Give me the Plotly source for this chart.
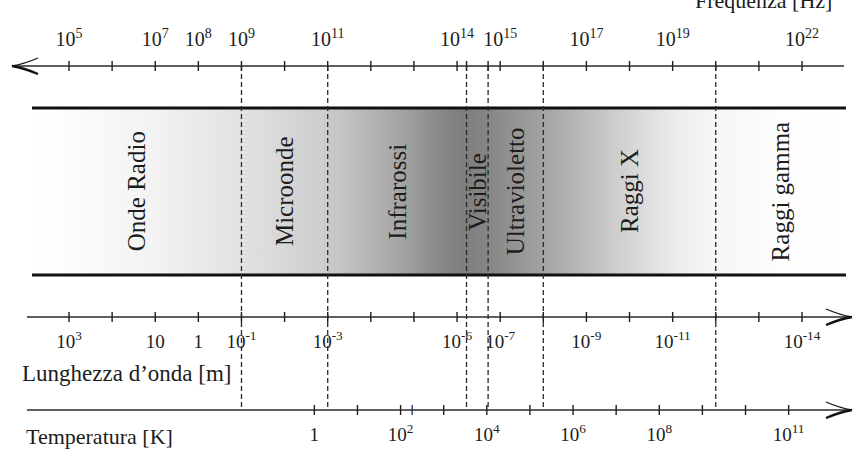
import plotly.graph_objects as go

# ---- spectrum data (log10 exponents) ----
FREQ_TICK_EXP = list(range(5, 23))                   # frequency ticks, 10^5 .. 10^22 Hz
FREQ_LABEL_EXP = [5, 7, 8, 9, 11, 14, 15, 17, 19, 22]
WAVE_LABEL_EXP = [3, 1, 0, -1, -3, -6, -7, -9, -11, -14]   # wavelength in m
TEMP_TICK_EXP = list(range(0, 12))                   # temperature ticks, 1 .. 10^11 K
TEMP_LABEL_EXP = [0, 2, 4, 6, 8, 11]
TEMP_MARK_EXP = [2.27]                               # highlighted temperature tick
BAND_NAMES = ["Onde Radio", "Microonde", "Infrarossi", "Visibile",
              "Ultravioletto", "Raggi X", "Raggi gamma"]
BAND_EDGES_EXP = [9, 11, 14.22, 14.72, 16, 20]       # region boundaries, log10 Hz

LIGHT_SPEED_EXP = 8        # lambda = c / f with c ~ 10^8 m/s
WIEN_OFFSET_EXP = 10.69    # peak frequency ~ 10^10.69 * T

# ---- layout geometry ----
W, H = 854, 452
PX_PER_DECADE = (802 - 69) / 17.0
X0 = 5 - 69 / PX_PER_DECADE
X1 = X0 + W / PX_PER_DECADE
BAND_LO, BAND_HI = X0 + 32 / PX_PER_DECADE, X0 + 846 / PX_PER_DECADE

Y_FREQ, Y_BAND_TOP, Y_BAND_BOT, Y_WAVE, Y_TEMP = 66, 108, 275, 317, 410
TICK_HALF = 5
INK = "#1c1c1c"
SERIF = "Liberation Serif, Times New Roman, serif"


def tick_trace(xs, yc, color=INK, width=1.4):
    tx, ty = [], []
    for x in xs:
        tx += [x, x, None]
        ty += [yc - TICK_HALF, yc + TICK_HALF, None]
    return go.Scatter(x=tx, y=ty, mode="lines", hoverinfo="skip",
                      line=dict(color=color, width=width), showlegend=False)


def power_label(e):
    if e == 0:
        return "1"
    if e == 1:
        return "10"
    return "10<sup>%d</sup>" % e


def label_trace(xs, texts, y, size):
    return go.Scatter(x=xs, y=[y] * len(xs), text=texts, mode="text",
                      textposition="middle center", hoverinfo="skip",
                      textfont=dict(family=SERIF, size=size, color=INK),
                      showlegend=False)


fig = go.Figure()

# gradient band
grad_stops = [(BAND_LO, 255), (4.79, 253), (6.88, 243), (9.01, 226), (11.0, 203),
              (12.68, 165), (13.6, 136), (14.2, 126), (14.72, 134), (16.0, 163),
              (17.78, 208), (19.17, 238), (20.0, 246), (21.5, 253), (BAND_HI, 255)]
colorscale = [[(e - BAND_LO) / (BAND_HI - BAND_LO), "rgb(%d,%d,%d)" % (g, g, g)]
              for e, g in grad_stops]
fig.add_trace(go.Scatter(
    x=[BAND_LO, BAND_HI, BAND_HI, BAND_LO, BAND_LO],
    y=[Y_BAND_TOP, Y_BAND_TOP, Y_BAND_BOT, Y_BAND_BOT, Y_BAND_TOP],
    mode="lines", fill="toself", line=dict(width=0), hoverinfo="skip",
    fillgradient=dict(type="horizontal", colorscale=colorscale,
                      start=BAND_LO, stop=BAND_HI),
    showlegend=False))

# band frame
for yb in (Y_BAND_TOP, Y_BAND_BOT):
    fig.add_shape(type="line", xref="x", yref="y", x0=BAND_LO, x1=BAND_HI,
                  y0=yb, y1=yb, line=dict(color="#111", width=3))

# region boundaries
for e in BAND_EDGES_EXP:
    fig.add_shape(type="line", xref="x", yref="y", x0=e, x1=e,
                  y0=Y_FREQ, y1=Y_TEMP,
                  line=dict(color="#2a2a2a", width=1.3, dash="5px,3px"))

# axis lines
axis_spans = [(Y_FREQ, 12, 844), (Y_WAVE, 27, 850), (Y_TEMP, 27, 850)]
for yc, p0, p1 in axis_spans:
    fig.add_shape(type="line", xref="x", yref="y",
                  x0=X0 + p0 / PX_PER_DECADE, x1=X0 + p1 / PX_PER_DECADE,
                  y0=yc, y1=yc, line=dict(color="#2a2a2a", width=1.3))


def arrow_head(tip_px, yc, direction):
    back = tip_px - direction * 26
    xt = X0 + tip_px / PX_PER_DECADE
    xb = X0 + back / PX_PER_DECADE
    xm = X0 + (tip_px - direction * 12) / PX_PER_DECADE
    fig.add_shape(type="path", xref="x", yref="y",
                  path="M %f,%f Q %f,%f %f,%f" % (xb, yc - 8, xm, yc - 2, xt, yc),
                  line=dict(color="#111", width=1.3))
    fig.add_shape(type="path", xref="x", yref="y",
                  path="M %f,%f Q %f,%f %f,%f" % (xb, yc + 8, xm, yc + 2, xt, yc),
                  line=dict(color="#111", width=2.4))


arrow_head(12, Y_FREQ, -1)
arrow_head(852, Y_WAVE, 1)
arrow_head(852, Y_TEMP, 1)

# ticks
fig.add_trace(tick_trace(FREQ_TICK_EXP + BAND_EDGES_EXP[2:4], Y_FREQ))
fig.add_trace(tick_trace(FREQ_TICK_EXP, Y_WAVE))
fig.add_trace(tick_trace([t + WIEN_OFFSET_EXP for t in TEMP_TICK_EXP], Y_TEMP))
fig.add_trace(tick_trace([t + WIEN_OFFSET_EXP for t in TEMP_MARK_EXP], Y_TEMP,
                         color="#3f4f8f", width=1.6))

# tick labels
fig.add_trace(label_trace(FREQ_LABEL_EXP, [power_label(e) for e in FREQ_LABEL_EXP], 41, 20))
fig.add_trace(label_trace([LIGHT_SPEED_EXP - w for w in WAVE_LABEL_EXP],
                          [power_label(w) for w in WAVE_LABEL_EXP], 343, 19))
fig.add_trace(label_trace([t + WIEN_OFFSET_EXP for t in TEMP_LABEL_EXP],
                          [power_label(t) for t in TEMP_LABEL_EXP], 436, 19))

# region names
edges = [BAND_LO] + BAND_EDGES_EXP + [BAND_HI]
for i, name in enumerate(BAND_NAMES):
    fig.add_annotation(x=(edges[i] + edges[i + 1]) / 2, y=(Y_BAND_TOP + Y_BAND_BOT) / 2,
                       xref="x", yref="y", text=name, textangle=-90, showarrow=False,
                       font=dict(family=SERIF, size=25, color=INK))

# axis titles
fig.add_annotation(x=X0 + 20 / PX_PER_DECADE, y=373, xref="x", yref="y",
                   text="Lunghezza d’onda [m]", xanchor="left", showarrow=False,
                   font=dict(family=SERIF, size=23, color=INK))
fig.add_annotation(x=X0 + 24 / PX_PER_DECADE, y=436, xref="x", yref="y",
                   text="Temperatura [K]", xanchor="left", showarrow=False,
                   font=dict(family=SERIF, size=22, color=INK))
fig.add_annotation(x=X0 + 834 / PX_PER_DECADE, y=15, xref="x", yref="y",
                   text="Frequenza [Hz]", xanchor="right", yanchor="bottom",
                   showarrow=False, font=dict(family=SERIF, size=22, color=INK))

fig.update_layout(
    width=W, height=H, margin=dict(l=0, r=0, t=0, b=0),
    paper_bgcolor="white", plot_bgcolor="white",
    xaxis=dict(range=[X0, X1], visible=False, fixedrange=True),
    yaxis=dict(range=[H, 0], visible=False, fixedrange=True),
    showlegend=False,
)

fig.write_html("out.html")
